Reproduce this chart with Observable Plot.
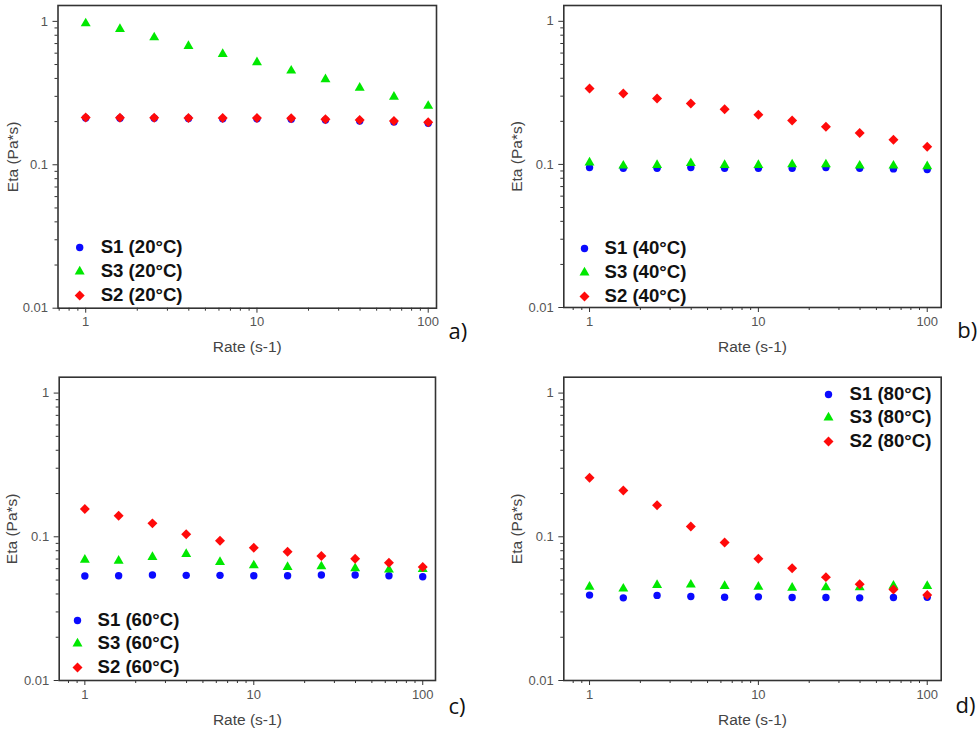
<!DOCTYPE html>
<html><head><meta charset="utf-8">
<script src="https://cdn.jsdelivr.net/npm/d3@7"></script>
<script src="https://cdn.jsdelivr.net/npm/@observablehq/plot@0.6"></script>
<style>
body{margin:0;background:#fff;}
#fig{position:relative;width:980px;height:732px;overflow:hidden;background:#fff}
.panel{position:absolute}
</style></head><body><div id="fig"></div>
<script>
// ---- data ----
const rates = [1, 1.585, 2.512, 3.981, 6.31, 10, 15.85, 25.12, 39.81, 63.1, 100];
const temps = ["20°C", "40°C", "60°C", "80°C"];
const letters = ["a)", "b)", "c)", "d)"];
const s1_20 = [0.212, 0.211, 0.211, 0.210, 0.209, 0.209, 0.208, 0.205, 0.202, 0.199, 0.195];
const s3_20 = [0.968, 0.884, 0.773, 0.673, 0.592, 0.518, 0.453, 0.394, 0.344, 0.298, 0.257];
const s2_20 = [0.214, 0.213, 0.213, 0.212, 0.212, 0.212, 0.211, 0.208, 0.205, 0.202, 0.198];
const s1_40 = [0.095, 0.094, 0.094, 0.095, 0.094, 0.094, 0.094, 0.095, 0.094, 0.093, 0.092];
const s3_40 = [0.103, 0.098, 0.099, 0.102, 0.099, 0.099, 0.100, 0.100, 0.098, 0.098, 0.097];
const s2_40 = [0.339, 0.313, 0.289, 0.267, 0.243, 0.222, 0.203, 0.183, 0.166, 0.149, 0.133];
const s1_60 = [0.0533, 0.0536, 0.0542, 0.0539, 0.0539, 0.0536, 0.0536, 0.0542, 0.0542, 0.0536, 0.0527];
const s3_60 = [0.0692, 0.0681, 0.0723, 0.0758, 0.0667, 0.0632, 0.0616, 0.0622, 0.0603, 0.0590, 0.0596];
const s2_60 = [0.156, 0.140, 0.124, 0.104, 0.0938, 0.0839, 0.0787, 0.0734, 0.0704, 0.0660, 0.0616];
const s1_80 = [0.0393, 0.0376, 0.0391, 0.0384, 0.0380, 0.0382, 0.0378, 0.0378, 0.0376, 0.0378, 0.0380];
const s3_80 = [0.0449, 0.0435, 0.0461, 0.0464, 0.0454, 0.0449, 0.0442, 0.0444, 0.0444, 0.0456, 0.0454];
const s2_80 = [0.258, 0.210, 0.166, 0.118, 0.0913, 0.0703, 0.0605, 0.0524, 0.0468, 0.0430, 0.0393];
const xTicks = [1, 10, 100];
const yTicks = [0.01, 0.1, 1];
const xLabel = "Rate (s-1)";
const yLabel = "Eta (Pa*s)";

const panelSeries = [
  [s1_20, s3_20, s2_20],
  [s1_40, s3_40, s2_40],
  [s1_60, s3_60, s2_60],
  [s1_80, s3_80, s2_80]
];
const seriesNames = ["S1", "S3", "S2"];

// ---- styles ----
const seriesStyle = [
  {symbol: "circle", fill: "#0a0aff", r: 3.7},
  {symbol: "triangle", fill: "#00e800", r: 3.7},
  {symbol: "diamond2", fill: "#ff0a0a", r: 4.5}
];
const layout = [
  {left: 0,   top: 0,   ml: 57.5, mr: 54,   mt: 5,    mb: 58.3, xdom: [0.689, 111.8], ylx: -45.3,
   leg: {sx: 21.7, tx: 42.7, dy: [242, 266, 290]}, let: {dx: 12, dy: 24}},
  {left: 490, top: 0,   ml: 73.3, mr: 39.3, mt: 5,    mb: 59,   xdom: [0.704, 121],   ylx: -46.8,
   leg: {sx: 20.7, tx: 40.7, dy: [243, 267, 291]}, let: {dx: 16, dy: 23}},
  {left: 0,   top: 366, ml: 58.7, mr: 55,   mt: 10.7, mb: 52,   xdom: [0.705, 119],   ylx: -47,
   leg: {sx: 18.3, tx: 38.3, dy: [243.3, 266.3, 290.3]}, let: {dx: 13, dy: 26.7}},
  {left: 490, top: 366, ml: 73.3, mr: 39.3, mt: 10.7, mb: 52,   xdom: [0.704, 121],   ylx: -46.6,
   leg: {sx: 264.7, tx: 285.7, dy: [17.3, 40.3, 64.3]}, let: {dx: 14.3, dy: 25}}
];

function minorTicks(lo, hi) {
  const out = [];
  for (let e = -3; e <= 3; e++) for (let m = 2; m <= 9; m++) {
    const v = m * Math.pow(10, e);
    if (v >= lo && v <= hi) out.push(v);
  }
  return out;
}

const fig = document.getElementById("fig");
const yDom = [0.01, 1.29];

layout.forEach((L, i) => {
  const series = panelSeries[i];
  const marks = [];
  series.forEach((vals, k) => {
    const data = rates.map((x, j) => ({x, y: vals[j]}));
    marks.push(Plot.dot(data, {x: "x", y: "y", ...seriesStyle[k], stroke: "none"}));
  });
  // legend
  series.forEach((vals, k) => {
    const st = seriesStyle[k];
    marks.push(Plot.dot([seriesNames[k]], {frameAnchor: "top-left", dx: L.leg.sx, dy: L.leg.dy[k],
      symbol: st.symbol, fill: st.fill, r: st.r, stroke: "none"}));
    marks.push(Plot.text([`${seriesNames[k]} (${temps[i]})`], {text: d => d, frameAnchor: "top-left",
      dx: L.leg.tx, dy: L.leg.dy[k], textAnchor: "start", lineAnchor: "middle",
      fontSize: 18.6, fontWeight: "bold", fill: "#111", fontFamily: "Liberation Sans, Arial, sans-serif"}));
  });
  marks.push(
    Plot.axisX(xTicks, {tickSize: 5, tickPadding: 4, stroke: "#333", fill: "#555", label: null,
      tickFormat: d => String(d), fontSize: 13}),
    Plot.axisX(minorTicks(L.xdom[0], L.xdom[1]), {tickSize: 3, stroke: "#333", fill: "none", label: null}),
    Plot.axisY(yTicks, {tickSize: 5, tickPadding: 5, stroke: "#333", fill: "#555", label: null,
      tickFormat: d => String(d), fontSize: 13}),
    Plot.axisY(minorTicks(yDom[0], yDom[1]), {tickSize: 3, stroke: "#333", fill: "none", label: null}),
    Plot.frame({stroke: "#333", strokeWidth: 1.6}),
    Plot.text([yLabel], {text: d => d, frameAnchor: "left", dx: L.ylx, rotate: -90,
      textAnchor: "middle", lineAnchor: "middle", fontSize: 15.5, fill: "#444"}),
    Plot.text([xLabel], {text: d => d, frameAnchor: "bottom", dy: 39.3,
      textAnchor: "middle", lineAnchor: "middle", fontSize: 15.5, fill: "#444"}),
    Plot.text([letters[i]], {text: d => d, frameAnchor: "bottom-right", dx: L.let.dx, dy: L.let.dy,
      textAnchor: "start", lineAnchor: "middle", fontSize: 22, fill: "#111",
      fontFamily: "Open Sans, Noto Sans, sans-serif"})
  );
  const chart = Plot.plot({
    width: 490, height: 366,
    marginLeft: L.ml, marginRight: L.mr, marginTop: L.mt, marginBottom: L.mb,
    x: {type: "log", domain: L.xdom},
    y: {type: "log", domain: yDom},
    style: {fontFamily: "Liberation Sans, Arial, sans-serif", fontSize: "13px", background: "white", overflow: "visible"},
    marks
  });
  const div = document.createElement("div");
  div.className = "panel";
  div.style.left = L.left + "px";
  div.style.top = L.top + "px";
  div.appendChild(chart);
  fig.appendChild(div);
});
</script></body></html>
